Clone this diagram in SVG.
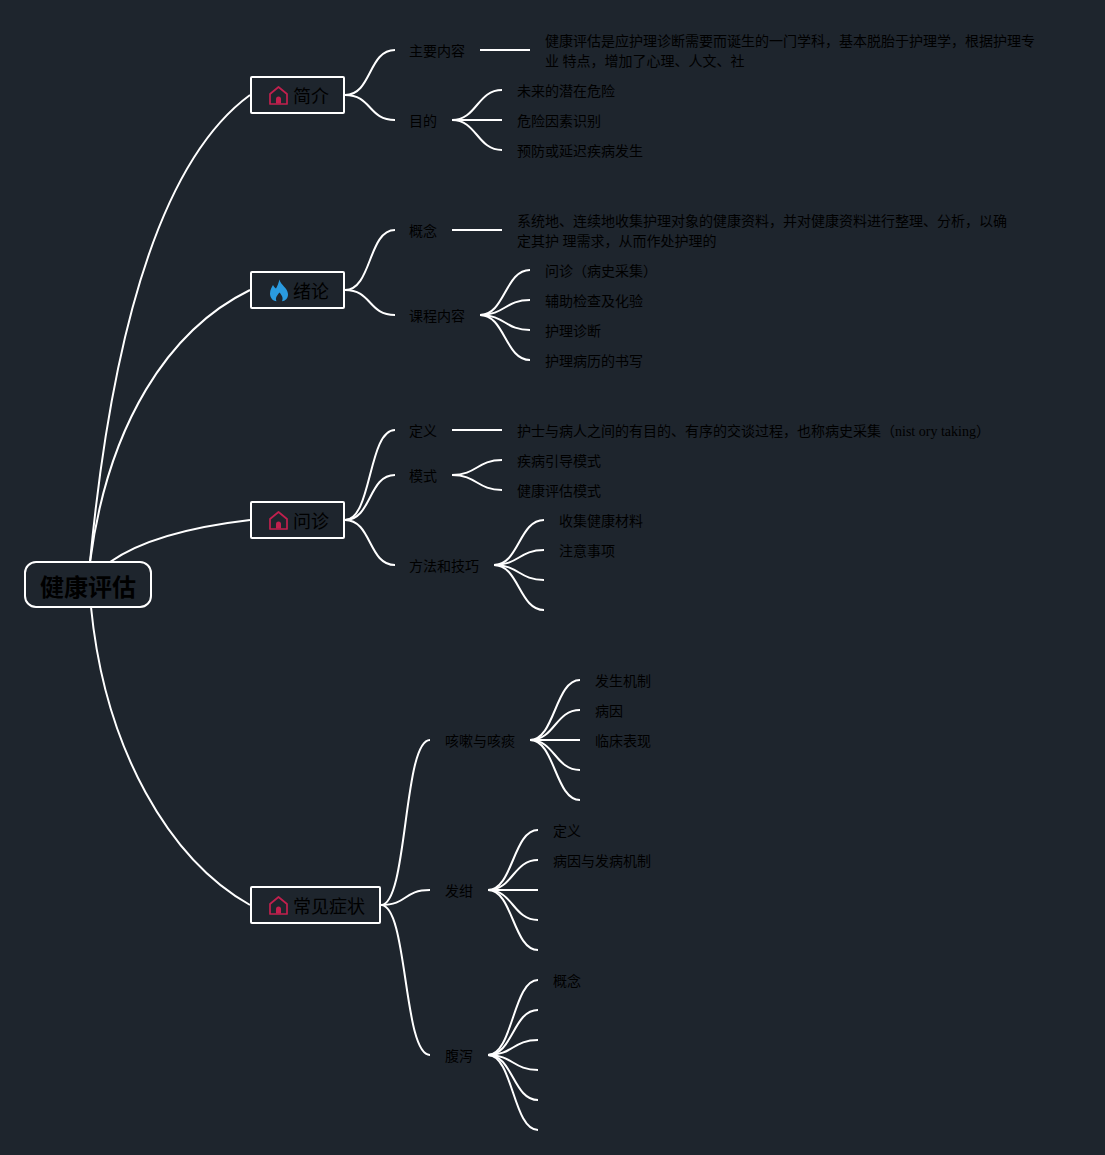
<svg xmlns="http://www.w3.org/2000/svg" width="1105" height="1155" viewBox="0 0 1105 1155">
<defs>
<style>
text{font-family:"Liberation Serif","Noto Sans CJK SC",serif;fill:#000}
.t{font-size:14px}
.m{font-size:18px}
.r{font-size:24px;font-weight:bold}
.b{fill:#1e252d;stroke:#fff;stroke-width:2}
#connectors path{fill:none;stroke:#fff;stroke-width:2}
</style>
<g id="home"><path d="M-8.500,8.500V-1.500L0,-8.500L8.500,-1.500V8.500Z" fill="none" stroke="#c2204e" stroke-width="1.700" stroke-linejoin="round"/><path d="M-2.500,8V3.500A2.500,2.500 0 0 1 2.500,3.500V8Z" fill="#c2204e"/></g>
</defs>
<rect width="1105" height="1155" fill="#1e252d"/>
<g id="connectors">
<path d="M90,562C114,310 168,155 250,95"/>
<path d="M90,562C108,425 168,330 250,290"/>
<path d="M110,562C140,541 190,527 250,520"/>
<path d="M91,607C105,750 170,860 250,905"/>
<path d="M345,95C372,95 368,50 395,50"/>
<path d="M345,95C372,95 368,120 395,120"/>
<path d="M480,50H530"/>
<path d="M452,120C477,120 477,90 502,90"/>
<path d="M452,120H502"/>
<path d="M452,120C477,120 477,150 502,150"/>
<path d="M345,290C372,290 368,230 395,230"/>
<path d="M345,290C372,290 368,315 395,315"/>
<path d="M452,230H502"/>
<path d="M480,315C505,315 505,270 530,270"/>
<path d="M480,315C505,315 505,300 530,300"/>
<path d="M480,315C505,315 505,330 530,330"/>
<path d="M480,315C505,315 505,360 530,360"/>
<path d="M345,520C372,520 368,430 395,430"/>
<path d="M345,520C372,520 368,475 395,475"/>
<path d="M345,520C372,520 368,565 395,565"/>
<path d="M452,430H502"/>
<path d="M452,475C477,475 477,460 502,460"/>
<path d="M452,475C477,475 477,490 502,490"/>
<path d="M494,565C519,565 519,520 544,520"/>
<path d="M494,565C519,565 519,550 544,550"/>
<path d="M494,565C519,565 519,580 544,580"/>
<path d="M494,565C519,565 519,610 544,610"/>
<path d="M381,905C408,905 403,740 430,740"/>
<path d="M381,905C408,905 403,890 430,890"/>
<path d="M381,905C408,905 403,1055 430,1055"/>
<path d="M530,740C555,740 555,680 580,680"/>
<path d="M530,740C555,740 555,710 580,710"/>
<path d="M530,740H580"/>
<path d="M530,740C555,740 555,770 580,770"/>
<path d="M530,740C555,740 555,800 580,800"/>
<path d="M488,890C513,890 513,830 538,830"/>
<path d="M488,890C513,890 513,860 538,860"/>
<path d="M488,890H538"/>
<path d="M488,890C513,890 513,920 538,920"/>
<path d="M488,890C513,890 513,950 538,950"/>
<path d="M488,1055C513,1055 513,980 538,980"/>
<path d="M488,1055C513,1055 513,1010 538,1010"/>
<path d="M488,1055C513,1055 513,1040 538,1040"/>
<path d="M488,1055C513,1055 513,1070 538,1070"/>
<path d="M488,1055C513,1055 513,1100 538,1100"/>
<path d="M488,1055C513,1055 513,1130 538,1130"/>
</g>
<g id="root"><rect class="b" x="25" y="562" width="126" height="45" rx="11"/><text class="r" x="40" y="596">健康评估</text></g>
<g id="n-jianjie"><rect class="b" x="251" y="77" width="93" height="36" rx="1"/><use href="#home" x="278.500" y="95.500"/><text class="m" x="293" y="103">简介</text></g>
<g id="n-xulun"><rect class="b" x="251" y="272" width="93" height="36" rx="1"/><path d="M279.500,279.500C280.500,285 287.500,287.500 288,294C288.300,298.500 285,301 282,301.300C283.500,298 282,295.500 279.500,292.500C277,295.500 275,298 276.500,301.300C273,301 270,298 270,293.500C270,289.500 272,287 273,285C274,287 275,288 276,288.500C277.500,286 278.500,283 279.500,279.500Z" fill="#2a9be0"/><text class="m" x="293" y="298">绪论</text></g>
<g id="n-wenzhen"><rect class="b" x="251" y="502" width="93" height="36" rx="1"/><use href="#home" x="278.500" y="520.500"/><text class="m" x="293" y="528">问诊</text></g>
<g id="n-zhengzhuang"><rect class="b" x="251" y="887" width="129" height="36" rx="1"/><use href="#home" x="278.500" y="905.500"/><text class="m" x="293" y="913">常见症状</text></g>
<g id="leaves">
<text class="t" x="409" y="56">主要内容</text>
<text class="t" x="545" y="46">健康评估是应护理诊断需要而诞生的一门学科，基本脱胎于护理学，根据护理专</text>
<text class="t" x="545" y="66">业 特点，增加了心理、人文、社</text>
<text class="t" x="409" y="126">目的</text>
<text class="t" x="517" y="96">未来的潜在危险</text>
<text class="t" x="517" y="126">危险因素识别</text>
<text class="t" x="517" y="156">预防或延迟疾病发生</text>
<text class="t" x="409" y="236">概念</text>
<text class="t" x="517" y="226">系统地、连续地收集护理对象的健康资料，并对健康资料进行整理、分析，以确</text>
<text class="t" x="517" y="246">定其护 理需求，从而作处护理的</text>
<text class="t" x="409" y="321">课程内容</text>
<text class="t" x="545" y="276">问诊（病史采集）</text>
<text class="t" x="545" y="306">辅助检查及化验</text>
<text class="t" x="545" y="336">护理诊断</text>
<text class="t" x="545" y="366">护理病历的书写</text>
<text class="t" x="409" y="436">定义</text>
<text class="t" x="517" y="436">护士与病人之间的有目的、有序的交谈过程，也称病史采集（nist ory taking）</text>
<text class="t" x="409" y="481">模式</text>
<text class="t" x="517" y="466">疾病引导模式</text>
<text class="t" x="517" y="496">健康评估模式</text>
<text class="t" x="409" y="571">方法和技巧</text>
<text class="t" x="559" y="526">收集健康材料</text>
<text class="t" x="559" y="556">注意事项</text>
<text class="t" x="445" y="746">咳嗽与咳痰</text>
<text class="t" x="595" y="686">发生机制</text>
<text class="t" x="595" y="716">病因</text>
<text class="t" x="595" y="746">临床表现</text>
<text class="t" x="445" y="896">发绀</text>
<text class="t" x="553" y="836">定义</text>
<text class="t" x="553" y="866">病因与发病机制</text>
<text class="t" x="445" y="1061">腹泻</text>
<text class="t" x="553" y="986">概念</text>
</g>
</svg>
